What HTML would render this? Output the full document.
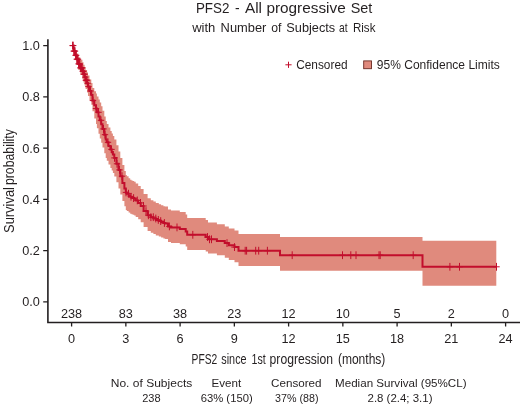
<!DOCTYPE html>
<html><head><meta charset="utf-8"><title>PFS2 - All progressive Set</title>
<style>html,body{margin:0;padding:0;background:#fff;width:520px;height:405px;overflow:hidden}svg{display:block}</style>
</head><body>
<svg width="520" height="405" viewBox="0 0 520 405" font-family="'Liberation Sans', sans-serif" fill="#231f20">
<rect width="520" height="405" fill="#ffffff"/>
<g opacity="0.999">
<path d="M72.0 45.6 L73.6 45.6 L73.6 48.5 L75.4 48.5 L75.4 50.9 L76.7 50.9 L76.7 53.6 L78.3 53.6 L78.3 57.2 L80.3 57.2 L80.3 59.8 L82.4 59.8 L82.4 62.3 L83.5 62.3 L83.5 64.8 L84.6 64.8 L84.6 67.1 L85.6 67.1 L85.6 69.9 L87.1 69.9 L87.1 72.5 L88.0 72.5 L88.0 75.6 L89.5 75.6 L89.5 79.6 L91.3 79.6 L91.3 83.1 L92.5 83.1 L92.5 88.1 L94.3 88.1 L94.3 91.2 L96.0 91.2 L96.0 93.5 L96.9 93.5 L96.9 96.4 L98.5 96.4 L98.5 99.5 L99.8 99.5 L99.8 102.5 L101.2 102.5 L101.2 106.3 L102.5 106.3 L102.5 110.8 L104.3 110.8 L104.3 116.5 L105.7 116.5 L105.7 121.1 L106.8 121.1 L106.8 123.9 L108.5 123.9 L108.5 127.5 L110.4 127.5 L110.4 130.9 L111.7 130.9 L111.7 133.4 L112.9 133.4 L112.9 136.0 L114.3 136.0 L114.3 139.4 L116.4 139.4 L116.4 145.3 L118.5 145.3 L118.5 151.5 L120.3 151.5 L120.3 158.0 L122.4 158.0 L122.4 165.0 L124.4 165.0 L124.4 170.9 L125.8 170.9 L125.8 174.9 L126.8 174.9 L126.8 176.3 L128.6 176.3 L128.6 178.2 L130.2 178.2 L130.2 179.7 L131.5 179.7 L131.5 180.4 L132.7 180.4 L132.7 181.1 L134.2 181.1 L134.2 181.8 L135.7 181.8 L135.7 183.4 L138.2 183.4 L138.2 185.9 L140.7 185.9 L140.7 189.0 L143.6 189.0 L143.6 194.1 L147.6 194.1 L147.6 198.3 L150.8 198.3 L150.8 200.2 L153.4 200.2 L153.4 201.5 L155.8 201.5 L155.8 202.9 L158.8 202.9 L158.8 204.2 L161.1 204.2 L161.1 205.2 L163.4 205.2 L163.4 206.2 L165.1 206.2 L165.1 206.6 L168.0 206.6 L168.0 209.6 L171.0 209.6 L171.0 210.6 L179.8 210.6 L179.8 212.1 L185.7 212.1 L185.7 214.6 L187.2 214.6 L187.2 217.9 L205.7 217.9 L205.7 220.1 L208.0 220.1 L208.0 222.4 L216.9 222.4 L216.9 224.3 L224.8 224.3 L224.8 226.6 L228.8 226.6 L228.8 228.6 L234.5 228.6 L234.5 230.5 L238.5 230.5 L238.5 234.0 L280.0 234.0 L280.0 237.1 L422.5 237.1 L422.5 240.7 L496.3 240.7 L496.3 285.8 L422.5 285.8 L422.5 270.7 L280.0 270.7 L280.0 266.1 L238.5 266.1 L238.5 262.3 L234.5 262.3 L234.5 260.1 L228.8 260.1 L228.8 257.8 L224.8 257.8 L224.8 255.2 L216.9 255.2 L216.9 253.6 L208.0 253.6 L208.0 251.5 L205.7 251.5 L205.7 249.9 L187.2 249.9 L187.2 246.6 L185.7 246.6 L185.7 244.2 L179.8 244.2 L179.8 242.9 L171.0 242.9 L171.0 241.9 L168.0 241.9 L168.0 238.9 L165.1 238.9 L165.1 238.5 L163.4 238.5 L163.4 237.6 L161.1 237.6 L161.1 236.6 L158.8 236.6 L158.8 235.4 L155.8 235.4 L155.8 234.0 L153.4 234.0 L153.4 232.7 L150.8 232.7 L150.8 231.0 L147.6 231.0 L147.6 227.1 L143.6 227.1 L143.6 222.2 L140.7 222.2 L140.7 219.3 L138.2 219.3 L138.2 217.0 L135.7 217.0 L135.7 215.5 L134.2 215.5 L134.2 214.8 L132.7 214.8 L132.7 214.3 L131.5 214.3 L131.5 213.7 L130.2 213.7 L130.2 212.6 L128.6 212.6 L128.6 211.1 L126.8 211.1 L126.8 209.9 L125.8 209.9 L125.8 206.3 L124.4 206.3 L124.4 200.9 L122.4 200.9 L122.4 194.4 L120.3 194.4 L120.3 188.4 L118.5 188.4 L118.5 182.3 L116.4 182.3 L116.4 176.4 L114.3 176.4 L114.3 173.0 L112.9 173.0 L112.9 170.4 L111.7 170.4 L111.7 167.9 L110.4 167.9 L110.4 164.5 L108.5 164.5 L108.5 160.8 L106.8 160.8 L106.8 158.0 L105.7 158.0 L105.7 153.2 L104.3 153.2 L104.3 147.4 L102.5 147.4 L102.5 142.8 L101.2 142.8 L101.2 138.6 L99.8 138.6 L99.8 133.7 L98.5 133.7 L98.5 128.3 L96.9 128.3 L96.9 123.9 L96.0 123.9 L96.0 118.6 L94.3 118.6 L94.3 111.3 L92.5 111.3 L92.5 104.8 L91.3 104.8 L91.3 100.5 L89.5 100.5 L89.5 95.9 L88.0 95.9 L88.0 92.5 L87.1 92.5 L87.1 89.1 L85.6 89.1 L85.6 85.6 L84.6 85.6 L84.6 82.4 L83.5 82.4 L83.5 79.1 L82.4 79.1 L82.4 75.0 L80.3 75.0 L80.3 70.1 L78.3 70.1 L78.3 64.5 L76.7 64.5 L76.7 59.8 L75.4 59.8 L75.4 53.8 L73.6 53.8 L73.6 45.6 L72.0 45.6 Z" fill="#e08a7d" stroke="none"/>
<path d="M72.0 45.6 L73.6 45.6 L73.6 51.1 L75.4 51.1 L75.4 55.3 L76.7 55.3 L76.7 59.2 L78.3 59.2 L78.3 63.9 L80.3 63.9 L80.3 67.9 L82.4 67.9 L82.4 71.3 L83.5 71.3 L83.5 74.2 L84.6 74.2 L84.6 77.1 L85.6 77.1 L85.6 80.2 L87.1 80.2 L87.1 83.3 L88.0 83.3 L88.0 86.6 L89.5 86.6 L89.5 91.0 L91.3 91.0 L91.3 95.0 L92.5 95.0 L92.5 100.6 L94.3 100.6 L94.3 105.2 L96.0 105.2 L96.0 108.6 L96.9 108.6 L96.9 112.3 L98.5 112.3 L98.5 116.4 L99.8 116.4 L99.8 120.3 L101.2 120.3 L101.2 124.3 L102.5 124.3 L102.5 128.9 L104.3 128.9 L104.3 134.7 L105.7 134.7 L105.7 139.5 L106.8 139.5 L106.8 142.3 L108.5 142.3 L108.5 146.0 L110.4 146.0 L110.4 149.4 L111.7 149.4 L111.7 151.9 L112.9 151.9 L112.9 154.5 L114.3 154.5 L114.3 157.9 L116.4 157.9 L116.4 163.8 L118.5 163.8 L118.5 169.9 L120.3 169.9 L120.3 176.2 L122.4 176.2 L122.4 182.9 L124.4 182.9 L124.4 188.6 L125.8 188.6 L125.8 192.4 L126.8 192.4 L126.8 193.7 L128.6 193.7 L128.6 195.4 L130.2 195.4 L130.2 196.7 L131.5 196.7 L131.5 197.4 L132.7 197.4 L132.7 198.1 L134.2 198.1 L134.2 198.8 L135.7 198.8 L135.7 200.4 L138.2 200.4 L138.2 202.9 L140.7 202.9 L140.7 206.0 L143.6 206.0 L143.6 211.1 L147.6 211.1 L147.6 215.3 L150.8 215.3 L150.8 217.2 L153.4 217.2 L153.4 218.5 L155.8 218.5 L155.8 219.9 L158.8 219.9 L158.8 221.1 L161.1 221.1 L161.1 222.1 L163.4 222.1 L163.4 223.0 L165.1 223.0 L165.1 223.4 L168.0 223.4 L168.0 226.4 L171.0 226.4 L171.0 227.4 L179.8 227.4 L179.8 228.9 L185.7 228.9 L185.7 231.5 L187.2 231.5 L187.2 234.8 L205.7 234.8 L205.7 237.0 L208.0 237.0 L208.0 239.3 L216.9 239.3 L216.9 241.0 L224.8 241.0 L224.8 243.1 L228.8 243.1 L228.8 245.2 L234.5 245.2 L234.5 247.1 L238.5 247.1 L238.5 250.7 L280.0 250.7 L280.0 255.2 L422.5 255.2 L422.5 266.8 L496.3 266.8" fill="none" stroke="#c20e2c" stroke-width="2" stroke-linejoin="miter"/>
<path d="M69.4 45.6H75.8M72.6 41.7V49.5M70.0 45.6H76.4M73.2 41.7V49.5M70.6 51.1H77.0M73.8 47.2V55.0M71.2 51.1H77.6M74.4 47.2V55.0M71.8 51.1H78.2M75.0 47.2V55.0M72.4 55.3H78.8M75.6 51.4V59.2M73.0 55.3H79.4M76.2 51.4V59.2M73.6 59.2H80.0M76.8 55.3V63.1M74.2 59.2H80.6M77.4 55.3V63.1M74.8 59.2H81.2M78.0 55.3V63.1M75.4 63.9H81.8M78.6 60.0V67.8M76.0 63.9H82.4M79.2 60.0V67.8M76.6 63.9H83.0M79.8 60.0V67.8M77.2 67.9H83.6M80.4 64.0V71.8M77.8 67.9H84.2M81.0 64.0V71.8M78.4 67.9H84.8M81.6 64.0V71.8M79.0 67.9H85.4M82.2 64.0V71.8M79.6 71.3H86.0M82.8 67.4V75.2M80.2 71.3H86.6M83.4 67.4V75.2M80.8 74.2H87.2M84.0 70.3V78.1M81.4 74.2H87.8M84.6 70.3V78.1M82.0 77.1H88.4M85.2 73.2V81.0M82.6 80.2H89.0M85.8 76.3V84.1M83.2 80.2H89.6M86.4 76.3V84.1M83.8 80.2H90.2M87.0 76.3V84.1M84.4 83.3H90.8M87.6 79.4V87.2M85.2 86.6H91.6M88.4 82.7V90.5M87.3 91.0H93.7M90.5 87.1V94.9M89.8 100.6H96.2M93.0 96.7V104.5M92.8 108.6H99.2M96.0 104.7V112.5M95.3 112.3H101.7M98.5 108.4V116.2M97.8 120.3H104.2M101.0 116.4V124.2M100.3 128.9H106.7M103.5 125.0V132.8M101.8 134.7H108.2M105.0 130.8V138.6M104.8 142.3H111.2M108.0 138.4V146.2M108.3 149.4H114.7M111.5 145.5V153.3M111.3 157.9H117.7M114.5 154.0V161.8M113.8 163.8H120.2M117.0 159.9V167.7M116.3 169.9H122.7M119.5 166.0V173.8M118.8 176.2H125.2M122.0 172.3V180.1M122.8 192.4H129.2M126.0 188.5V196.3M125.3 193.7H131.7M128.5 189.8V197.6M127.8 196.7H134.2M131.0 192.8V200.6M130.4 198.1H136.8M133.6 194.2V202.0M134.1 200.4H140.5M137.3 196.5V204.3M137.3 202.9H143.7M140.5 199.0V206.8M140.3 206.0H146.7M143.5 202.1V209.9M142.8 211.1H149.2M146.0 207.2V215.0M145.2 215.3H151.6M148.4 211.4V219.2M147.7 217.2H154.1M150.9 213.3V221.1M150.1 217.2H156.5M153.3 213.3V221.1M152.6 218.5H159.0M155.8 214.6V222.4M155.1 219.9H161.5M158.3 216.0V223.8M157.5 221.1H163.9M160.7 217.2V225.0M161.2 223.0H167.6M164.4 219.1V226.9M166.2 226.4H172.6M169.4 222.5V230.3M173.8 227.4H180.2M177.0 223.5V231.3M189.6 234.8H196.0M192.8 230.9V238.7M204.3 237.0H210.7M207.5 233.1V240.9M206.3 239.3H212.7M209.5 235.4V243.2M208.3 239.3H214.7M211.5 235.4V243.2M223.8 243.1H230.2M227.0 239.2V247.0M231.3 247.1H237.7M234.5 243.2V251.0M242.0 250.7H248.4M245.2 246.8V254.6M243.4 250.7H249.8M246.6 246.8V254.6M252.5 250.7H258.9M255.7 246.8V254.6M255.5 250.7H261.9M258.7 246.8V254.6M264.2 250.7H270.6M267.4 246.8V254.6M289.0 255.2H295.4M292.2 251.3V259.1M339.3 255.2H345.7M342.5 251.3V259.1M347.6 255.2H354.0M350.8 251.3V259.1M352.8 255.2H359.2M356.0 251.3V259.1M375.8 255.2H382.2M379.0 251.3V259.1M377.0 255.2H383.4M380.2 251.3V259.1M410.0 255.2H416.4M413.2 251.3V259.1M446.7 266.8H453.1M449.9 262.9V270.7M456.3 266.8H462.7M459.5 262.9V270.7M493.3 266.8H499.7M496.5 262.9V270.7" fill="none" stroke="#c20e2c" stroke-width="1"/>
<path d="M47.9 39.2V322.45H520" fill="none" stroke="#231f20" stroke-width="1.6" stroke-linejoin="miter"/>
<text x="39.9" y="50.0" font-size="12.7" text-anchor="end">1.0</text>
<text x="39.9" y="101.25" font-size="12.7" text-anchor="end">0.8</text>
<text x="39.9" y="152.5" font-size="12.7" text-anchor="end">0.6</text>
<text x="39.9" y="203.75" font-size="12.7" text-anchor="end">0.4</text>
<text x="39.9" y="255.0" font-size="12.7" text-anchor="end">0.2</text>
<text x="39.9" y="306.25" font-size="12.7" text-anchor="end">0.0</text>
<text x="71.6" y="343.4" font-size="12.7" text-anchor="middle">0</text>
<text x="71.6" y="318.2" font-size="12.7" text-anchor="middle">238</text>
<text x="125.85" y="343.4" font-size="12.7" text-anchor="middle">3</text>
<text x="125.85" y="318.2" font-size="12.7" text-anchor="middle">83</text>
<text x="180.1" y="343.4" font-size="12.7" text-anchor="middle">6</text>
<text x="180.1" y="318.2" font-size="12.7" text-anchor="middle">38</text>
<text x="234.35" y="343.4" font-size="12.7" text-anchor="middle">9</text>
<text x="234.35" y="318.2" font-size="12.7" text-anchor="middle">23</text>
<text x="288.6" y="343.4" font-size="12.7" text-anchor="middle">12</text>
<text x="288.6" y="318.2" font-size="12.7" text-anchor="middle">12</text>
<text x="342.85" y="343.4" font-size="12.7" text-anchor="middle">15</text>
<text x="342.85" y="318.2" font-size="12.7" text-anchor="middle">10</text>
<text x="397.1" y="343.4" font-size="12.7" text-anchor="middle">18</text>
<text x="397.1" y="318.2" font-size="12.7" text-anchor="middle">5</text>
<text x="451.35" y="343.4" font-size="12.7" text-anchor="middle">21</text>
<text x="451.35" y="318.2" font-size="12.7" text-anchor="middle">2</text>
<text x="505.6" y="343.4" font-size="12.7" text-anchor="middle">24</text>
<text x="505.6" y="318.2" font-size="12.7" text-anchor="middle">0</text>
<path d="M43.2 45.60H47.9M43.2 96.85H47.9M43.2 148.10H47.9M43.2 199.35H47.9M43.2 250.60H47.9M43.2 301.85H47.9M71.60 322.45V326.4M125.85 322.45V326.4M180.10 322.45V326.4M234.35 322.45V326.4M288.60 322.45V326.4M342.85 322.45V326.4M397.10 322.45V326.4M451.35 322.45V326.4M505.60 322.45V326.4" fill="none" stroke="#231f20" stroke-width="1.3"/>
<text x="195.9" y="13.0" font-size="15.5" text-anchor="start" textLength="33.5" lengthAdjust="spacingAndGlyphs">PFS2</text>
<text x="235.0" y="13.0" font-size="15.5" text-anchor="start" textLength="4.6" lengthAdjust="spacingAndGlyphs">-</text>
<text x="245.0" y="13.0" font-size="15.5" text-anchor="start" textLength="17.0" lengthAdjust="spacingAndGlyphs">All</text>
<text x="266.4" y="13.0" font-size="15.5" text-anchor="start" textLength="79.3" lengthAdjust="spacingAndGlyphs">progressive</text>
<text x="350.7" y="13.0" font-size="15.5" text-anchor="start" textLength="21.6" lengthAdjust="spacingAndGlyphs">Set</text>
<text x="192.2" y="31.5" font-size="12.6" text-anchor="start" textLength="23.2" lengthAdjust="spacingAndGlyphs">with</text>
<text x="220.6" y="31.5" font-size="12.6" text-anchor="start" textLength="45.8" lengthAdjust="spacingAndGlyphs">Number</text>
<text x="271.3" y="31.5" font-size="12.6" text-anchor="start" textLength="10.2" lengthAdjust="spacingAndGlyphs">of</text>
<text x="286.3" y="31.5" font-size="12.6" text-anchor="start" textLength="48.9" lengthAdjust="spacingAndGlyphs">Subjects</text>
<text x="339.0" y="31.5" font-size="12.6" text-anchor="start" textLength="8.6" lengthAdjust="spacingAndGlyphs">at</text>
<text x="353.0" y="31.5" font-size="12.6" text-anchor="start" textLength="22.4" lengthAdjust="spacingAndGlyphs">Risk</text>
<path d="M285.4 64.8H291.6M288.5 61.7V67.9" stroke="#c20e2c" stroke-width="1" fill="none"/>
<text x="296.2" y="69.3" font-size="12.6" text-anchor="start" textLength="51.4" lengthAdjust="spacingAndGlyphs">Censored</text>
<rect x="363.7" y="60.9" width="7.8" height="7.8" fill="#e08a7d" stroke="#6b2a22" stroke-width="0.9"/>
<text x="376.8" y="69.3" font-size="12.6" text-anchor="start" textLength="123" lengthAdjust="spacingAndGlyphs">95% Confidence Limits</text>
<text transform="translate(13.5 233.0) rotate(-90)" font-size="14" text-anchor="start" textLength="46.0" lengthAdjust="spacingAndGlyphs">Survival</text>
<text transform="translate(13.5 185.1) rotate(-90)" font-size="14" text-anchor="start" textLength="56.0" lengthAdjust="spacingAndGlyphs">probability</text>
<text x="191.6" y="364.3" font-size="14.2" text-anchor="start" textLength="25.7" lengthAdjust="spacingAndGlyphs">PFS2</text>
<text x="221.3" y="364.3" font-size="14.2" text-anchor="start" textLength="25.3" lengthAdjust="spacingAndGlyphs">since</text>
<text x="251.6" y="364.3" font-size="14.2" text-anchor="start" textLength="14.2" lengthAdjust="spacingAndGlyphs">1st</text>
<text x="269.6" y="364.3" font-size="14.2" text-anchor="start" textLength="63.5" lengthAdjust="spacingAndGlyphs">progression</text>
<text x="337.9" y="364.3" font-size="14.2" text-anchor="start" textLength="47.5" lengthAdjust="spacingAndGlyphs">(months)</text>
<text x="151.5" y="387.3" font-size="11.8" text-anchor="middle" textLength="81.5" lengthAdjust="spacingAndGlyphs">No. of Subjects</text>
<text x="151.4" y="401.5" font-size="11.8" text-anchor="middle" textLength="18.4" lengthAdjust="spacingAndGlyphs">238</text>
<text x="226.4" y="387.3" font-size="11.8" text-anchor="middle" textLength="29.7" lengthAdjust="spacingAndGlyphs">Event</text>
<text x="226.7" y="401.5" font-size="11.8" text-anchor="middle" textLength="52" lengthAdjust="spacingAndGlyphs">63% (150)</text>
<text x="296.3" y="387.3" font-size="11.8" text-anchor="middle" textLength="50.5" lengthAdjust="spacingAndGlyphs">Censored</text>
<text x="296.8" y="401.5" font-size="11.8" text-anchor="middle" textLength="43.5" lengthAdjust="spacingAndGlyphs">37% (88)</text>
<text x="400.8" y="387.3" font-size="11.8" text-anchor="middle" textLength="131.5" lengthAdjust="spacingAndGlyphs">Median Survival (95%CL)</text>
<text x="400" y="401.5" font-size="11.8" text-anchor="middle" textLength="65" lengthAdjust="spacingAndGlyphs">2.8 (2.4; 3.1)</text>
</g></svg>
</body></html>
